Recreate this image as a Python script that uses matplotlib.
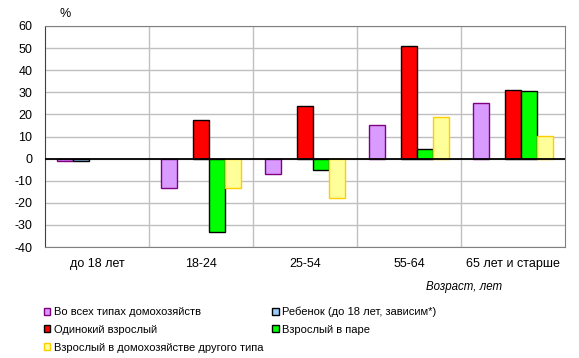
import numpy as np
import matplotlib
matplotlib.use("Agg")
from matplotlib import pyplot as plt
from matplotlib.patches import Patch

plt.rcParams['font.family'] = ['Liberation Sans', 'DejaVu Sans']
plt.rcParams['axes.unicode_minus'] = False

categories = ["до 18 лет", "18-24", "25-54", "55-64", "65 лет и старше"]
series_names = ["Во всех типах домохозяйств", "Ребенок (до 18 лет, зависим*)",
                "Одинокий взрослый", "Взрослый в паре",
                "Взрослый в домохозяйстве другого типа"]
all_types = [-1.2, -13.5, -7.1, 15.1, 25.0]
child = [-1.2, np.nan, np.nan, np.nan, np.nan]
single_adult = [np.nan, 17.3, 23.7, 50.8, 31.0]
couple_adult = [np.nan, -33.2, -5.2, 4.2, 30.6]
other_adult = [np.nan, -13.5, -18.0, 18.7, 10.2]

values = [all_types, child, single_adult, couple_adult, other_adult]
fills = ["#D99BFF", "#99CCFF", "#FF0000", "#00FF00", "#FFFF99"]
edges = ["#800080", "#000000", "#000000", "#000000", "#FFCC00"]

fig = plt.figure(figsize=(5.79, 3.58), dpi=100)
ax = fig.add_axes([45 / 579, 1 - 247 / 358, 520 / 579, 221 / 358])

x = np.arange(len(categories))
w = 0.154
for i, vals in enumerate(values):
    ax.bar(x + (i - 2) * w, vals, width=w, color=fills[i], edgecolor=edges[i],
           linewidth=1.0, zorder=3)

ax.set_xlim(-0.5, len(categories) - 0.5)
ax.set_ylim(-40, 60)
ax.set_yticks(range(-40, 61, 10))
ax.set_xticks(x)
ax.set_xticklabels(categories, fontsize=9)
ax.tick_params(axis='y', labelsize=9, length=0, pad=9)
ax.tick_params(axis='x', length=0, pad=8)

ax.grid(axis='y', color="#C0C0C0", linewidth=1, zorder=0)
for b in np.arange(0.5, len(categories) - 0.5):
    ax.axvline(b, color="#C0C0C0", linewidth=1, zorder=0)
ax.axhline(0, color="black", linewidth=1.3, zorder=4)
for s in ax.spines.values():
    s.set_color("#808080")
ax.spines['left'].set_color("#404040")

fig.text(65 / 579, 1 - 14 / 358, "%", fontsize=9, ha='center', va='center')
fig.text(502 / 579, 1 - 287 / 358, "Возраст, лет", fontsize=8.3, style='italic',
         ha='right', va='center')

order = [0, 2, 4, 1, 3]
handles = [Patch(facecolor=fills[i], edgecolor=edges[i], linewidth=1.0) for i in order]
labels = [series_names[i] for i in order]
fig.legend(handles, labels, loc='upper left', bbox_to_anchor=(38 / 579, 1 - 301 / 358),
           ncol=2, frameon=False, fontsize=8, handlelength=0.6, handleheight=0.6,
           handletextpad=0.35, columnspacing=0.75, labelspacing=0.7, borderpad=0)

fig.savefig("out.png", dpi=100)
